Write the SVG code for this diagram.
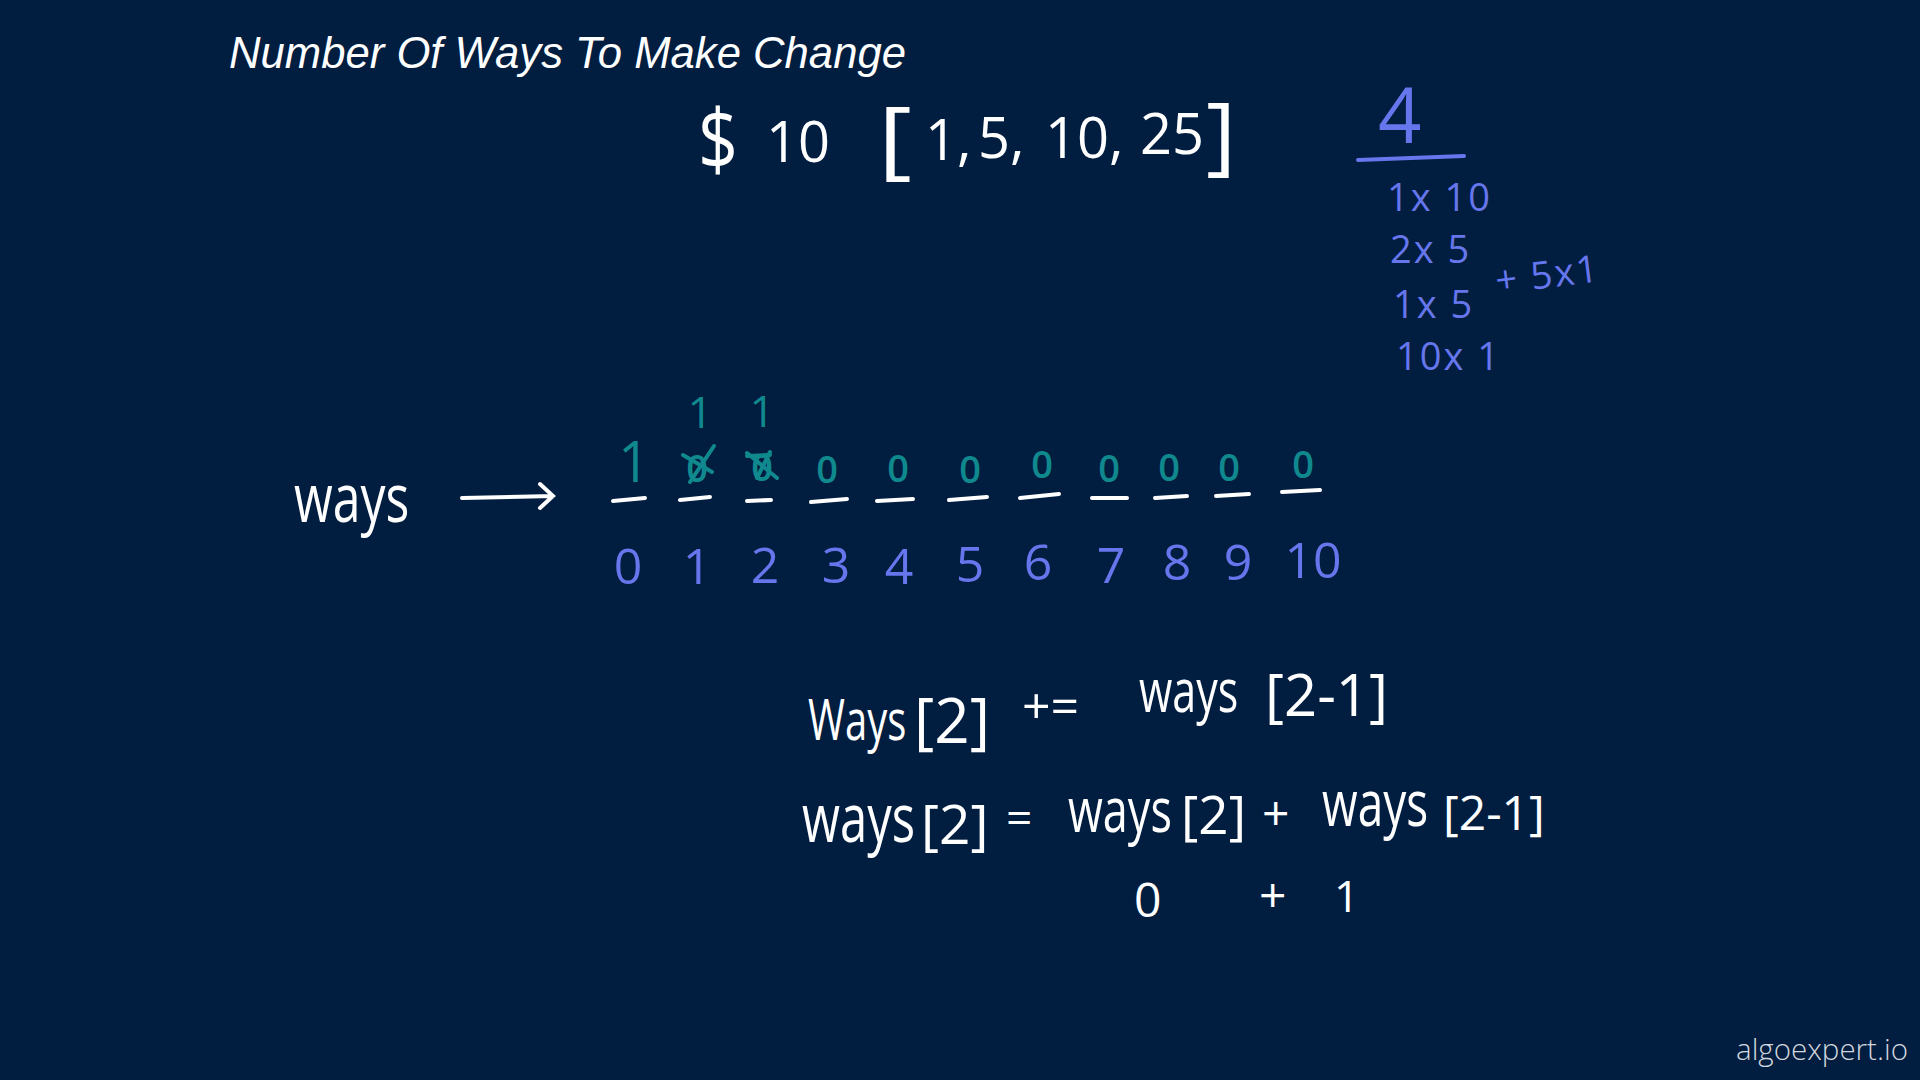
<svg xmlns="http://www.w3.org/2000/svg" width="1920" height="1080" viewBox="0 0 1920 1080">
<style>
.hw{font-family:"Open Sans","DejaVu Sans",sans-serif;font-weight:400}
.w{fill:#ffffff}
.b{fill:#6676ec}
.t{fill:#10898e}
.ln{stroke-linecap:round;fill:none}
.ws{stroke:#ffffff;stroke-width:4}
.ts{stroke:#10898e;stroke-width:4}
.bs{stroke:#6676ec;stroke-width:4}
</style>
<rect width="1920" height="1080" fill="#011d3f"/>
<g id="title">
<text x="229" y="68" font-family="'Liberation Sans',Arial,sans-serif" font-style="italic" font-size="45" fill="#ffffff" textLength="677" lengthAdjust="spacingAndGlyphs">Number Of Ways To Make Change</text>
</g>
<g id="problem" class="hw w">
<text x="698" y="170" font-size="84" textLength="40" lengthAdjust="spacingAndGlyphs">$</text>
<text x="766" y="162" font-size="56">10</text>
<text x="878" y="168" font-size="86" textLength="34" lengthAdjust="spacingAndGlyphs">[</text>
<text x="925" y="160" font-size="56">1,</text>
<text x="978" y="158" font-size="56">5,</text>
<text x="1045" y="158" font-size="56">10,</text>
<text x="1140" y="154" font-size="56">25</text>
<text x="1206" y="164" font-size="86" textLength="30" lengthAdjust="spacingAndGlyphs">]</text>
</g>
<g id="answer" class="hw b">
<text x="1378" y="143" font-size="76">4</text>
<line class="ln bs" x1="1358" y1="160" x2="1464" y2="156"/>
<g font-size="38" letter-spacing="2">
<text x="1387" y="211">1x 10</text>
<text x="1390" y="263">2x 5</text>
<text x="1393" y="318">1x 5</text>
<text x="1497" y="294" transform="rotate(-7 1497 294)">+ 5x1</text>
<text x="1396" y="370">10x 1</text>
</g>
</g>
<g id="ways-label" class="hw w">
<text transform="translate(294 522) scale(1 1.35)" font-size="50">ways</text>
</g>
<g id="connectors">
<path class="ln ws" d="M462 498 L553 496 M540 484 L553 496 L540 508"/>
</g>
<g id="ways-array">
<g id="slots" class="ln ws">
<line x1="613" y1="501" x2="645" y2="498"/>
<line x1="680" y1="500" x2="710" y2="497"/>
<line x1="747" y1="501" x2="771" y2="500"/>
<line x1="811" y1="502" x2="847" y2="499"/>
<line x1="877" y1="501" x2="913" y2="499"/>
<line x1="949" y1="500" x2="987" y2="497"/>
<line x1="1020" y1="498" x2="1059" y2="494"/>
<line x1="1092" y1="498" x2="1127" y2="498"/>
<line x1="1155" y1="498" x2="1187" y2="496"/>
<line x1="1216" y1="496" x2="1249" y2="494"/>
<line x1="1282" y1="492" x2="1320" y2="490"/>
</g>
<g id="values" class="hw t" text-anchor="middle">
<text x="634" y="482" font-size="56">1</text>
<text x="700" y="428" font-size="44">1</text>
<text x="762" y="427" font-size="44">1</text>
<g font-size="38" font-weight="600">
<text x="697" y="482">0</text>
<text x="762" y="481">0</text>
<text x="827" y="483">0</text>
<text x="898" y="482">0</text>
<text x="970" y="483">0</text>
<text x="1042" y="478">0</text>
<text x="1109" y="482">0</text>
<text x="1169" y="481">0</text>
<text x="1229" y="481">0</text>
<text x="1303" y="478">0</text>
</g>
</g>
<g id="strikes" class="ln ts">
<line x1="690" y1="482" x2="714" y2="446"/>
<line x1="683" y1="455" x2="712" y2="472"/>
<line x1="747" y1="453" x2="777" y2="478"/>
<line x1="757" y1="478" x2="770" y2="452"/>
<line x1="747" y1="456" x2="770" y2="455"/>
</g>
<g id="indices" class="hw b" text-anchor="middle" font-size="50">
<text x="628" y="584">0</text>
<text x="697" y="584">1</text>
<text x="765" y="583">2</text>
<text x="836" y="583">3</text>
<text x="899" y="584">4</text>
<text x="970" y="582">5</text>
<text x="1038" y="580">6</text>
<text x="1111" y="583">7</text>
<text x="1177" y="580">8</text>
<text x="1238" y="580">9</text>
<text x="1313" y="578">10</text>
</g>
</g>
<g id="equation-1" class="hw w">
<text transform="translate(808 740) scale(1 1.4)" font-size="40">Ways</text>
<text x="914" y="743" font-size="62">[2]</text>
<text x="1022" y="724" font-size="50">+=</text>
<text transform="translate(1139 712) scale(1 1.4)" font-size="43">ways</text>
<text x="1265" y="716" font-size="58">[2-1]</text>
</g>
<g id="equation-2" class="hw w">
<text transform="translate(802 842) scale(1 1.4)" font-size="49">ways</text>
<text x="921" y="844" font-size="55">[2]</text>
<text x="1006" y="834" font-size="46">=</text>
<text transform="translate(1068 832) scale(1 1.4)" font-size="45">ways</text>
<text x="1181" y="834" font-size="53">[2]</text>
<text x="1262" y="830" font-size="48">+</text>
<text transform="translate(1322 826) scale(1 1.4)" font-size="46">ways</text>
<text x="1443" y="830" font-size="48">[2-1]</text>
</g>
<g id="equation-3" class="hw w">
<text x="1134" y="917" font-size="48">0</text>
<text x="1259" y="912" font-size="48">+</text>
<text x="1334" y="912" font-size="44">1</text>
</g>
<g id="watermark">
<text x="1736" y="1060" font-family="'Open Sans','Noto Sans',sans-serif" font-weight="300" font-size="30" fill="#d2d6de" textLength="172" lengthAdjust="spacingAndGlyphs">algoexpert.io</text>
</g>
</svg>
